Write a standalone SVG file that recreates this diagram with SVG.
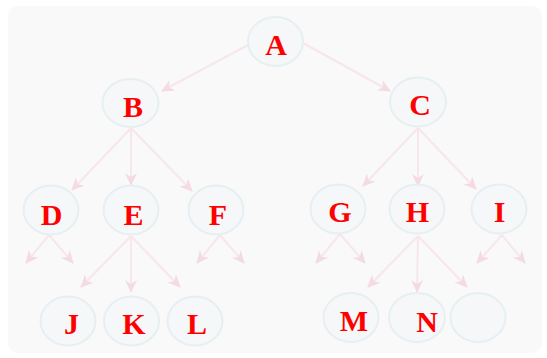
<svg xmlns="http://www.w3.org/2000/svg" width="547" height="358" viewBox="0 0 547 358">
<defs>
<marker id="ah" markerUnits="userSpaceOnUse" markerWidth="14" markerHeight="12" refX="12" refY="6" orient="auto">
<path d="M0,0 L13,6 L0,12 L4,6 z" fill="#f4dbe2"/>
</marker>
<style>
.n{fill:#f6f7f8;stroke:#e6eff2;stroke-width:2}
.t{font-family:"Liberation Serif",serif;font-weight:bold;font-size:30px;fill:#ff0000;text-anchor:middle}
.e{stroke:#f7e6ea;stroke-width:2;fill:none;marker-end:url(#ah)}
</style>
</defs>
<rect x="0" y="0" width="547" height="358" fill="#ffffff"/>
<rect x="8" y="6" width="534" height="347" rx="10" fill="#f9f9fa"/>
<g id="connectors">
<line class="e" x1="248" y1="45" x2="162" y2="91"/>
<line class="e" x1="303" y1="43" x2="390" y2="91"/>
<line class="e" x1="131" y1="128" x2="72" y2="190"/>
<line class="e" x1="131" y1="128" x2="131" y2="185"/>
<line class="e" x1="131" y1="128" x2="192" y2="191"/>
<line class="e" x1="418" y1="128" x2="363" y2="186"/>
<line class="e" x1="418" y1="128" x2="418" y2="186"/>
<line class="e" x1="418" y1="128" x2="476" y2="189"/>
<line class="e" x1="49" y1="235" x2="26" y2="263"/>
<line class="e" x1="49" y1="235" x2="73" y2="263"/>
<line class="e" x1="131" y1="236" x2="81" y2="287"/>
<line class="e" x1="131" y1="236" x2="131" y2="292"/>
<line class="e" x1="131" y1="236" x2="180" y2="287"/>
<line class="e" x1="220" y1="235" x2="197" y2="263"/>
<line class="e" x1="220" y1="235" x2="244" y2="263"/>
<line class="e" x1="340" y1="234" x2="316" y2="263"/>
<line class="e" x1="340" y1="234" x2="365" y2="263"/>
<line class="e" x1="418" y1="236" x2="368" y2="287"/>
<line class="e" x1="418" y1="236" x2="417" y2="292"/>
<line class="e" x1="418" y1="236" x2="467" y2="287"/>
<line class="e" x1="502" y1="235" x2="477" y2="263"/>
<line class="e" x1="502" y1="235" x2="525" y2="263"/>
</g>
<g id="A"><ellipse class="n" cx="275.5" cy="41.5" rx="27.5" ry="24.5"/><text class="t" x="276" y="55">A</text></g>
<g id="B"><ellipse class="n" cx="130.5" cy="103" rx="28" ry="24"/><text class="t" x="133" y="116.5">B</text></g>
<g id="C"><ellipse class="n" cx="418" cy="102" rx="28" ry="24.5"/><text class="t" x="420" y="115">C</text></g>
<g id="D"><ellipse class="n" cx="51" cy="210" rx="27.5" ry="24.5"/><text class="t" x="51.5" y="225">D</text></g>
<g id="E"><ellipse class="n" cx="131" cy="210" rx="27.5" ry="24.5"/><text class="t" x="133.5" y="225">E</text></g>
<g id="F"><ellipse class="n" cx="216" cy="210" rx="27.5" ry="24.5"/><text class="t" x="218" y="225">F</text></g>
<g id="G"><ellipse class="n" cx="338" cy="209" rx="27.5" ry="24.5"/><text class="t" x="340" y="222">G</text></g>
<g id="H"><ellipse class="n" cx="417" cy="209" rx="27.5" ry="24.5"/><text class="t" x="417.5" y="222">H</text></g>
<g id="I"><ellipse class="n" cx="499" cy="209" rx="27.5" ry="24.5"/><text class="t" x="499.5" y="222">I</text></g>
<g id="J"><ellipse class="n" cx="68" cy="321" rx="27.5" ry="24.5"/><text class="t" x="71.5" y="334">J</text></g>
<g id="K"><ellipse class="n" cx="131.5" cy="321" rx="27.5" ry="24.5"/><text class="t" x="134" y="334">K</text></g>
<g id="L"><ellipse class="n" cx="195" cy="321" rx="27.5" ry="24.5"/><text class="t" x="197" y="334">L</text></g>
<g id="M"><ellipse class="n" cx="351" cy="317.5" rx="27.5" ry="24.5"/><text class="t" x="354" y="330.5">M</text></g>
<g id="N"><ellipse class="n" cx="417" cy="317.5" rx="28" ry="24.5"/><text class="t" x="427" y="332">N</text></g>
<g id="O"><ellipse class="n" cx="478" cy="317.5" rx="27.5" ry="24.5"/></g>
</svg>
